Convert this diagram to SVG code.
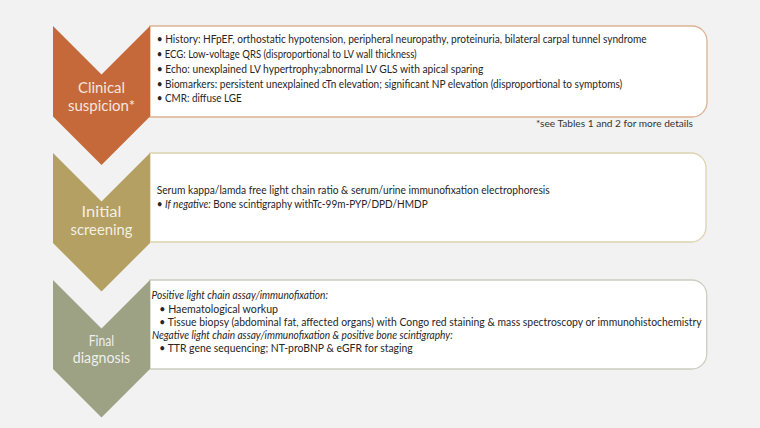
<svg xmlns="http://www.w3.org/2000/svg" width="760" height="428" viewBox="0 0 760 428">
<style>
.bg{fill:#F2F2F2}
.box{fill:#FFFFFF;stroke-width:1.3}
.b1{stroke:#DDB293}
.b2{stroke:#DCD3B0}
.b3{stroke:#CBCDBF}
.lbl{font-family:Lato,"Liberation Sans",sans-serif;font-size:15.5px;fill:#FFFFFF;fill-opacity:0.85;text-anchor:middle}
.t{font-family:Lato,"Liberation Sans",sans-serif;font-size:10.5px;fill:#262626}
.i{font-style:italic}
.fn{font-family:Lato,"Liberation Sans",sans-serif;font-size:9.5px;fill:#333333}
</style>
<rect class="bg" x="0" y="0" width="760" height="428"/>

<g id="step-clinical-suspicion">
  <path class="box b1" d="M150,26 H692 A15,15 0 0 1 707,41 V102 A15,15 0 0 1 692,117 H150 Z"/>
  <path fill="#C6693A" d="M53,26 L101.5,74.5 L150,26 L150,116.5 L101.5,165 L53,116.5 Z"/>
  <text class="lbl" x="101.5" y="92.5" textLength="47" lengthAdjust="spacingAndGlyphs">Clinical</text>
  <text class="lbl" x="101.5" y="111" textLength="67" lengthAdjust="spacingAndGlyphs">suspicion*</text>
  <text class="t" x="156.7" y="43.3" textLength="490" lengthAdjust="spacingAndGlyphs">• History: HFpEF, orthostatic hypotension, peripheral neuropathy, proteinuria, bilateral carpal tunnel syndrome</text>
  <text class="t" x="156.7" y="58.2" textLength="260" lengthAdjust="spacingAndGlyphs">• ECG: Low-voltage QRS (disproportional to LV wall thickness)</text>
  <text class="t" x="156.7" y="72.9" textLength="326.6" lengthAdjust="spacingAndGlyphs">• Echo: unexplained LV hypertrophy;abnormal LV GLS with apical sparing</text>
  <text class="t" x="156.7" y="87.6" textLength="465.6" lengthAdjust="spacingAndGlyphs">• Biomarkers: persistent unexplained cTn elevation; significant NP elevation (disproportional to symptoms)</text>
  <text class="t" x="156.7" y="102.3" textLength="85" lengthAdjust="spacingAndGlyphs">• CMR: diffuse LGE</text>
  <text class="fn" x="536" y="126.5" textLength="157" lengthAdjust="spacingAndGlyphs">*see Tables 1 and 2 for more details</text>
</g>

<g id="step-initial-screening">
  <path class="box b2" d="M150,153 H691 A15,15 0 0 1 706,168 V227 A15,15 0 0 1 691,242 H150 Z"/>
  <path fill="#B4A062" d="M53,153 L101.5,201.5 L150,153 L150,243 L101.5,291.5 L53,243 Z"/>
  <text class="lbl" x="101.5" y="217.3" textLength="40" lengthAdjust="spacingAndGlyphs">Initial</text>
  <text class="lbl" x="101.5" y="234.5" textLength="62" lengthAdjust="spacingAndGlyphs">screening</text>
  <text class="t" x="156.7" y="194" textLength="393" lengthAdjust="spacingAndGlyphs">Serum kappa/lamda free light chain ratio &amp; serum/urine immunofixation electrophoresis</text>
  <text class="t" x="156.7" y="207.7" textLength="271" lengthAdjust="spacingAndGlyphs">• <tspan class="i">If negative:</tspan> Bone scintigraphy withTc-99m-PYP/DPD/HMDP</text>
</g>

<g id="step-final-diagnosis">
  <path class="box b3" d="M150,280 H691.7 A15,15 0 0 1 706.7,295 V354 A15,15 0 0 1 691.7,369 H150 Z"/>
  <path fill="#9DA285" d="M53,280 L101.5,328.5 L150,280 L150,369 L101.5,417.5 L53,369 Z"/>
  <text class="lbl" x="101.5" y="346" textLength="25.5" lengthAdjust="spacingAndGlyphs">Final</text>
  <text class="lbl" x="101.5" y="362.5" textLength="57.5" lengthAdjust="spacingAndGlyphs">diagnosis</text>
  <text class="t i" x="151.5" y="299.3" textLength="176.5" lengthAdjust="spacingAndGlyphs">Positive light chain assay/immunofixation:</text>
  <text class="t" x="159.3" y="312.5" textLength="118.7" lengthAdjust="spacingAndGlyphs">• Haematological workup</text>
  <text class="t" x="159.3" y="325.5" textLength="542.4" lengthAdjust="spacingAndGlyphs">• Tissue biopsy (abdominal fat, affected organs) with Congo red staining &amp; mass spectroscopy or immunohistochemistry</text>
  <text class="t i" x="152" y="338.5" textLength="300.7" lengthAdjust="spacingAndGlyphs">Negative light chain assay/immunofixation &amp; positive bone scintigraphy:</text>
  <text class="t" x="159.3" y="351.7" textLength="253.4" lengthAdjust="spacingAndGlyphs">• TTR gene sequencing; NT-proBNP &amp; eGFR for staging</text>
</g>
</svg>
